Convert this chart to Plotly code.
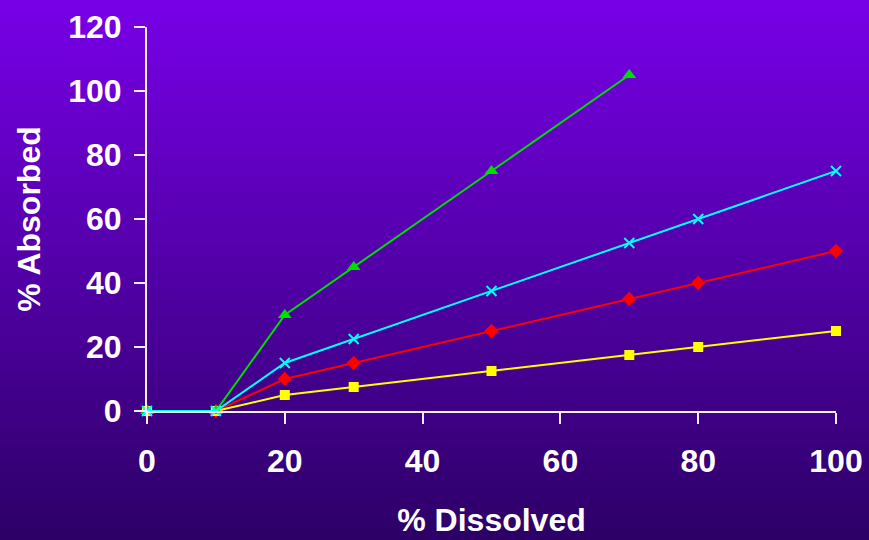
import plotly.graph_objects as go

# % dissolved (x) versus % absorbed (y) for four absorption curves
dissolved_a = [0, 10, 20, 30, 50, 70]
absorbed_green = [0, 0, 30, 45, 75, 105]

dissolved_b = [0, 10, 20, 30, 50, 70, 80, 100]
absorbed_cyan = [0, 0, 15, 22.5, 37.5, 52.5, 60, 75]
absorbed_red = [0, 0, 10, 15, 25, 35, 40, 50]
absorbed_yellow = [0, 0, 5, 7.5, 12.5, 17.5, 20, 25]

x_ticks = [0, 20, 40, 60, 80, 100]
y_ticks = [0, 20, 40, 60, 80, 100, 120]

W, H = 869, 540
L, R, T, B = 147, 33, 27, 129
FONT = dict(family="Liberation Sans, Arial, sans-serif", size=32, color="white", weight="bold")
AX = "#f4eefc"

fig = go.Figure()

fig.add_trace(go.Scatter(x=dissolved_b, y=absorbed_red, mode="lines+markers",
                         line=dict(color="#ff0000", width=2),
                         marker=dict(symbol="diamond", size=11, color="#ff0000"),
                         cliponaxis=False))
fig.add_trace(go.Scatter(x=dissolved_b, y=absorbed_yellow, mode="lines+markers",
                         line=dict(color="#ffff00", width=2),
                         marker=dict(symbol="square", size=10, color="#ffff00"),
                         cliponaxis=False))
fig.add_trace(go.Scatter(x=dissolved_a, y=absorbed_green, mode="lines+markers",
                         line=dict(color="#00dd00", width=2),
                         marker=dict(symbol="triangle-up", size=12, color="#00dd00"),
                         cliponaxis=False))
fig.add_trace(go.Scatter(x=dissolved_b, y=absorbed_cyan, mode="lines+markers",
                         line=dict(color="#00ffff", width=2),
                         marker=dict(symbol="x-thin", size=10, color="#00ffff",
                                     line=dict(color="#00ffff", width=2)),
                         cliponaxis=False))

# vertical purple gradient background, drawn as thin horizontal bands
plot_h = H - T - B
plot_w = W - L - R
top_c = (120, 0, 232)
bot_c = (44, 0, 102)
step = 3
shapes = []
for py in range(0, H, step):
    f = (py + step / 2) / H
    c = tuple(round(top_c[i] + (bot_c[i] - top_c[i]) * f) for i in range(3))
    shapes.append(dict(
        type="rect", xref="paper", yref="paper", layer="below",
        x0=-L / plot_w - 0.01, x1=1 + R / plot_w + 0.01,
        y0=(H - B - (py + step)) / plot_h, y1=(H - B - py) / plot_h,
        fillcolor="rgb(%d,%d,%d)" % c, line=dict(width=0)))

common_x = dict(range=[0, 100], tickvals=x_ticks, showgrid=False, zeroline=False,
                showline=True, linecolor=AX, linewidth=2, tickcolor=AX,
                tickwidth=2, ticklen=11, automargin=False)
common_y = dict(range=[0, 120], tickvals=y_ticks, showgrid=False, zeroline=False,
                showline=True, linecolor=AX, linewidth=2, tickcolor=AX,
                tickwidth=2, ticklen=11, automargin=False)

fig.update_layout(
    width=W, height=H,
    margin=dict(l=L, r=R, t=T, b=B),
    paper_bgcolor="#5a00b4", plot_bgcolor="rgba(0,0,0,0)",
    showlegend=False, shapes=shapes,
    font=FONT,
    xaxis=dict(**common_x, ticks="outside", tickfont=FONT, ticklabelstandoff=10,
               title=dict(text="% Dissolved", font=FONT, standoff=30)),
    xaxis2=dict(**common_x, ticks="inside", overlaying="x", anchor="y",
                side="bottom", showticklabels=False),
    yaxis=dict(**common_y, ticks="outside", tickfont=FONT, ticklabelstandoff=6,
               title=dict(text="% Absorbed", font=FONT, standoff=18)),
    yaxis2=dict(**common_y, ticks="inside", overlaying="y", anchor="x",
                side="left", showticklabels=False),
)

fig.write_html("out.html")
